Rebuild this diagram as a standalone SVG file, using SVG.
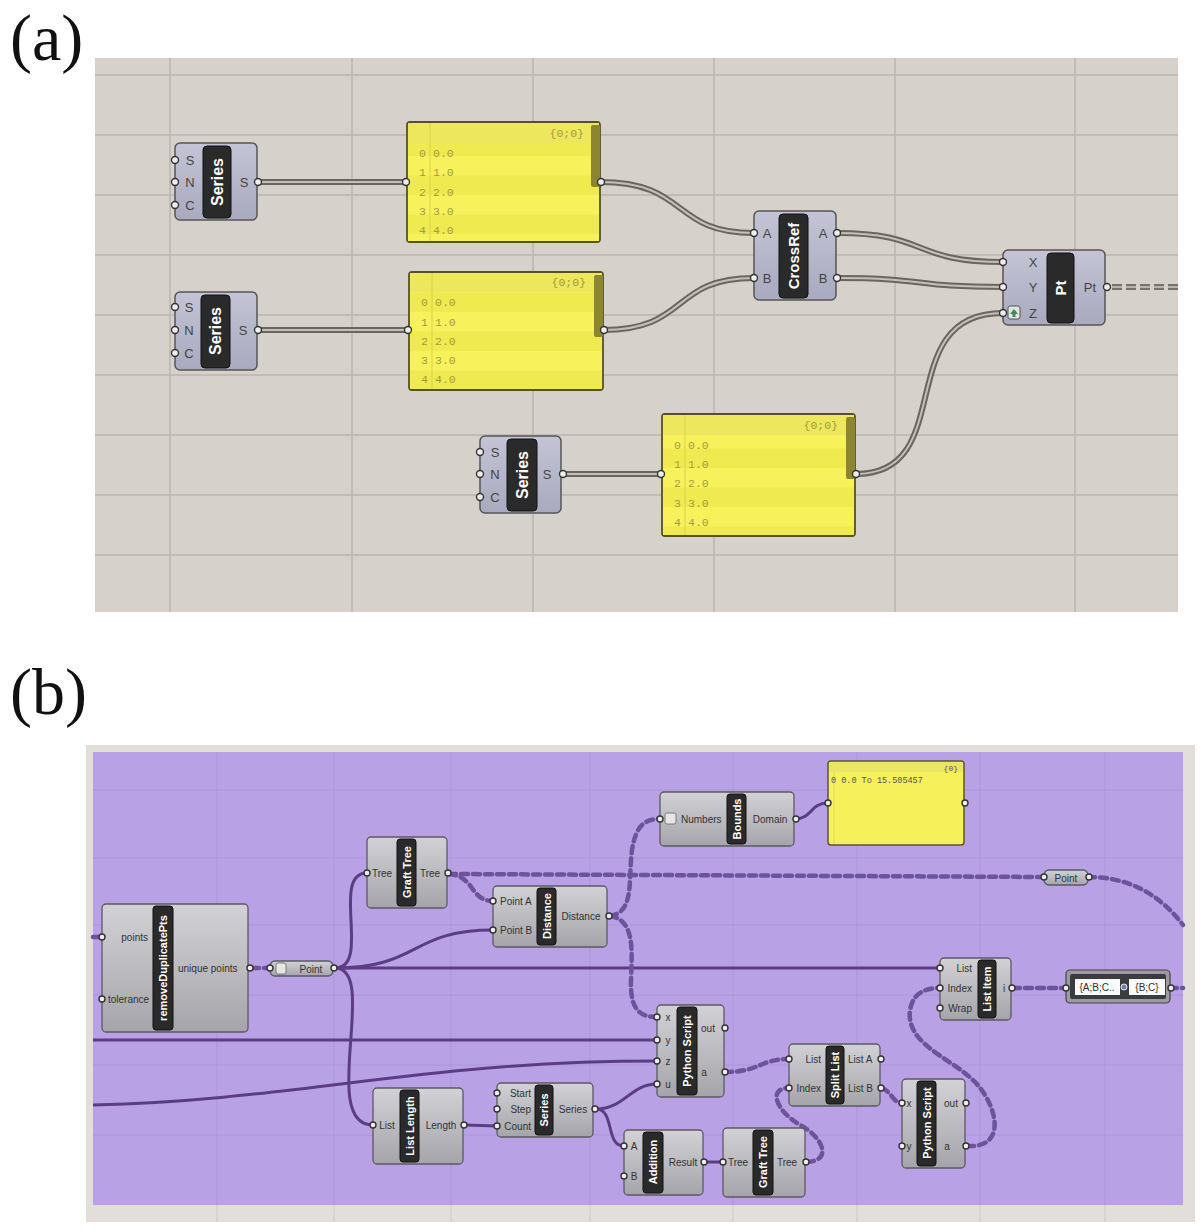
<svg xmlns="http://www.w3.org/2000/svg" width="1200" height="1231" viewBox="0 0 1200 1231">
<defs>
<linearGradient id="gA" x1="0" y1="0" x2="0" y2="1"><stop offset="0" stop-color="#c4c4d6"/><stop offset="1" stop-color="#a9a9bf"/></linearGradient>
<linearGradient id="gB" x1="0" y1="0" x2="0" y2="1"><stop offset="0" stop-color="#d2d2d6"/><stop offset="1" stop-color="#a4a4aa"/></linearGradient>
<pattern id="rows" x="0" y="0" width="10" height="39" patternUnits="userSpaceOnUse"><rect width="10" height="19.5" fill="#f7f25c"/><rect y="19.5" width="10" height="19.5" fill="#efea50"/></pattern>
</defs>
<style>
.lbl{font-family:"Liberation Serif","Times New Roman",serif;font-size:66px;fill:#111}
.na{fill:url(#gA);stroke:#555;stroke-width:1.5}
.nb{fill:url(#gB);stroke:#5a5a62;stroke-width:1.3}
.lb{fill:#2a2a2a;stroke:#111;stroke-width:1}
.tt{font-family:"Liberation Sans",Arial,sans-serif;fill:#fff;font-weight:bold;text-anchor:middle;dominant-baseline:central}
.pa{font-family:"Liberation Sans",Arial,sans-serif;font-size:13px;fill:#444;text-anchor:middle;dominant-baseline:central}
.pb{font-family:"Liberation Sans",Arial,sans-serif;font-size:10px;fill:#333;dominant-baseline:central}
.grip{fill:#eee;stroke:#333;stroke-width:1.4}
.yp{fill:#f4ef58;stroke:#55521f;stroke-width:1.8}
.yh{fill:#ece75c}
.yt{font-family:"Liberation Mono","Courier New",monospace;font-size:11.5px;fill:#a29c3c;dominant-baseline:central}
.scr{fill:#8c8632}
.wo{fill:none;stroke:#6a665f;stroke-width:6}
.wi{fill:none;stroke:#c4c0b7;stroke-width:2}
.ws{fill:none;stroke:#5a3d85;stroke-width:3}
.wd{fill:none;stroke:#6c539c;stroke-width:4.5;stroke-dasharray:7 5;stroke-linecap:round}
.gla{stroke:#bab6ae;stroke-width:1.5}
.glb{stroke:#ab95d8;stroke-width:1}
</style>

<text class="lbl" x="10" y="60">(a)</text>
<text class="lbl" x="10" y="714">(b)</text>

<!-- panel a canvas -->
<rect x="95" y="58" width="1083" height="554" fill="#d6d2cb"/>
<g class="gla">
<line x1="170" y1="58" x2="170" y2="612"/><line x1="352" y1="58" x2="352" y2="612"/><line x1="533" y1="58" x2="533" y2="612"/><line x1="714" y1="58" x2="714" y2="612"/><line x1="895" y1="58" x2="895" y2="612"/><line x1="1075" y1="58" x2="1075" y2="612"/>
<line x1="95" y1="75" x2="1178" y2="75"/><line x1="95" y1="135" x2="1178" y2="135"/><line x1="95" y1="195" x2="1178" y2="195"/><line x1="95" y1="255" x2="1178" y2="255"/><line x1="95" y1="315" x2="1178" y2="315"/><line x1="95" y1="375" x2="1178" y2="375"/><line x1="95" y1="435" x2="1178" y2="435"/><line x1="95" y1="495" x2="1178" y2="495"/><line x1="95" y1="555" x2="1178" y2="555"/>
</g>

<!-- panel a connectors -->
<g id="connectors-a">
<defs>
<path id="a1" d="M258,182 L405,182"/>
<path id="a2" d="M258,330 L407,330"/>
<path id="a3" d="M563,474 L660,474"/>
<path id="a4" d="M600,182 C690,182 670,233 754,233"/>
<path id="a5" d="M603,330 C690,330 670,278 754,278"/>
<path id="a6" d="M837,233 C930,233 910,262 1003,262"/>
<path id="a7" d="M837,278 C930,278 910,287 1003,287"/>
<path id="a8" d="M856,474 C960,474 890,313 1003,313"/>
</defs>
<use href="#a1" class="wo"/><use href="#a1" class="wi"/>
<use href="#a2" class="wo"/><use href="#a2" class="wi"/>
<use href="#a3" class="wo"/><use href="#a3" class="wi"/>
<use href="#a4" class="wo"/><use href="#a4" class="wi"/>
<use href="#a5" class="wo"/><use href="#a5" class="wi"/>
<use href="#a6" class="wo"/><use href="#a6" class="wi"/>
<use href="#a7" class="wo"/><use href="#a7" class="wi"/>
<use href="#a8" class="wo"/><use href="#a8" class="wi"/>
<path d="M1112,287 L1178,287" fill="none" stroke="#77736b" stroke-width="6" stroke-dasharray="10 4"/>
<path d="M1112,287 L1178,287" fill="none" stroke="#b9b5ac" stroke-width="2" stroke-dasharray="10 4"/>
</g>

<!-- Series 1 -->
<g id="series1">
<rect class="na" x="175" y="143" width="82" height="77" rx="5"/>
<rect class="lb" x="203" y="146" width="28" height="72" rx="4"/>
<text class="tt" font-size="16" transform="translate(217,182) rotate(-90)">Series</text>
<text class="pa" x="190" y="160">S</text><text class="pa" x="190" y="182">N</text><text class="pa" x="190" y="205">C</text>
<text class="pa" x="244" y="182">S</text>
<circle class="grip" cx="175" cy="160" r="3.5"/><circle class="grip" cx="175" cy="182" r="3.5"/><circle class="grip" cx="175" cy="205" r="3.5"/><circle class="grip" cx="258" cy="182" r="3.5"/>
</g>
<!-- Series 2 -->
<g id="series2">
<rect class="na" x="175" y="292" width="82" height="78" rx="5"/>
<rect class="lb" x="201" y="295" width="29" height="73" rx="4"/>
<text class="tt" font-size="16" transform="translate(215.5,331) rotate(-90)">Series</text>
<text class="pa" x="189" y="307">S</text><text class="pa" x="189" y="330">N</text><text class="pa" x="189" y="353">C</text>
<text class="pa" x="243" y="330">S</text>
<circle class="grip" cx="175" cy="307" r="3.5"/><circle class="grip" cx="175" cy="330" r="3.5"/><circle class="grip" cx="175" cy="353" r="3.5"/><circle class="grip" cx="258" cy="330" r="3.5"/>
</g>
<!-- Series 3 -->
<g id="series3">
<rect class="na" x="480" y="436" width="81" height="77" rx="5"/>
<rect class="lb" x="507" y="439" width="30" height="72" rx="4"/>
<text class="tt" font-size="16" transform="translate(522,475) rotate(-90)">Series</text>
<text class="pa" x="495" y="452">S</text><text class="pa" x="495" y="474">N</text><text class="pa" x="495" y="497">C</text>
<text class="pa" x="547" y="474">S</text>
<circle class="grip" cx="480" cy="452" r="3.5"/><circle class="grip" cx="480" cy="474" r="3.5"/><circle class="grip" cx="480" cy="497" r="3.5"/><circle class="grip" cx="563" cy="474" r="3.5"/>
</g>

<!-- Panel 1 -->
<g id="panel1">
<rect class="yp" x="407" y="122" width="193" height="120" rx="3"/>
<rect x="408" y="143" width="191" height="98" fill="url(#rows)"/>
<rect class="yh" x="408" y="123" width="191" height="20"/>
<line x1="430" y1="123" x2="430" y2="241" stroke="#d8d24a" stroke-width="1"/>
<rect class="scr" x="591" y="125" width="9" height="62" rx="2"/>
<text class="yt" x="584" y="133" text-anchor="end">{0;0}</text>
<text class="yt" x="426" y="153" text-anchor="end">0</text><text class="yt" x="433" y="153">0.0</text>
<text class="yt" x="426" y="172" text-anchor="end">1</text><text class="yt" x="433" y="172">1.0</text>
<text class="yt" x="426" y="192" text-anchor="end">2</text><text class="yt" x="433" y="192">2.0</text>
<text class="yt" x="426" y="211" text-anchor="end">3</text><text class="yt" x="433" y="211">3.0</text>
<text class="yt" x="426" y="230" text-anchor="end">4</text><text class="yt" x="433" y="230">4.0</text>
<circle class="grip" cx="406" cy="182" r="3.5"/><circle class="grip" cx="601" cy="182" r="3.5"/>
</g>
<!-- Panel 2 -->
<g id="panel2">
<rect class="yp" x="409" y="272" width="194" height="118" rx="3"/>
<rect x="410" y="292" width="192" height="97" fill="url(#rows)"/>
<rect class="yh" x="410" y="273" width="192" height="19"/>
<line x1="432" y1="273" x2="432" y2="389" stroke="#d8d24a" stroke-width="1"/>
<rect class="scr" x="594" y="275" width="9" height="62" rx="2"/>
<text class="yt" x="586" y="282" text-anchor="end">{0;0}</text>
<text class="yt" x="428" y="302" text-anchor="end">0</text><text class="yt" x="435" y="302">0.0</text>
<text class="yt" x="428" y="322" text-anchor="end">1</text><text class="yt" x="435" y="322">1.0</text>
<text class="yt" x="428" y="341" text-anchor="end">2</text><text class="yt" x="435" y="341">2.0</text>
<text class="yt" x="428" y="360" text-anchor="end">3</text><text class="yt" x="435" y="360">3.0</text>
<text class="yt" x="428" y="379" text-anchor="end">4</text><text class="yt" x="435" y="379">4.0</text>
<circle class="grip" cx="408" cy="330" r="3.5"/><circle class="grip" cx="604" cy="330" r="3.5"/>
</g>
<!-- Panel 3 -->
<g id="panel3">
<rect class="yp" x="662" y="414" width="193" height="122" rx="3"/>
<rect x="663" y="435" width="191" height="100" fill="url(#rows)"/>
<rect class="yh" x="663" y="415" width="191" height="20"/>
<line x1="685" y1="415" x2="685" y2="535" stroke="#d8d24a" stroke-width="1"/>
<rect class="scr" x="846" y="417" width="9" height="62" rx="2"/>
<text class="yt" x="838" y="425" text-anchor="end">{0;0}</text>
<text class="yt" x="681" y="445" text-anchor="end">0</text><text class="yt" x="688" y="445">0.0</text>
<text class="yt" x="681" y="464" text-anchor="end">1</text><text class="yt" x="688" y="464">1.0</text>
<text class="yt" x="681" y="483" text-anchor="end">2</text><text class="yt" x="688" y="483">2.0</text>
<text class="yt" x="681" y="503" text-anchor="end">3</text><text class="yt" x="688" y="503">3.0</text>
<text class="yt" x="681" y="522" text-anchor="end">4</text><text class="yt" x="688" y="522">4.0</text>
<circle class="grip" cx="661" cy="474" r="3.5"/><circle class="grip" cx="856" cy="474" r="3.5"/>
</g>

<!-- CrossRef -->
<g id="crossref">
<rect class="na" x="754" y="211" width="82" height="89" rx="5"/>
<rect class="lb" x="779" y="214" width="29" height="84" rx="4"/>
<text class="tt" font-size="15" transform="translate(793.5,256) rotate(-90)">CrossRef</text>
<text class="pa" x="767" y="233">A</text><text class="pa" x="767" y="278">B</text>
<text class="pa" x="823" y="233">A</text><text class="pa" x="823" y="278">B</text>
<circle class="grip" cx="754" cy="233" r="3.5"/><circle class="grip" cx="754" cy="278" r="3.5"/><circle class="grip" cx="837" cy="233" r="3.5"/><circle class="grip" cx="837" cy="278" r="3.5"/>
</g>
<!-- Pt -->
<g id="pt">
<rect class="na" x="1003" y="250" width="102" height="75" rx="5"/>
<rect class="lb" x="1047" y="253" width="27" height="70" rx="4"/>
<text class="tt" font-size="15" transform="translate(1060.5,288) rotate(-90)">Pt</text>
<text class="pa" x="1033" y="262">X</text><text class="pa" x="1033" y="287">Y</text><text class="pa" x="1033" y="313">Z</text>
<text class="pa" x="1090" y="287">Pt</text>
<rect x="1008" y="306" width="12" height="13" rx="2" fill="#dfe6e0" stroke="#555" stroke-width="1"/>
<path d="M1014,309 L1018,314 L1015.5,314 L1015.5,317 L1012.5,317 L1012.5,314 L1010,314 Z" fill="#3f8a5a"/>
<circle class="grip" cx="1003" cy="262" r="3.5"/><circle class="grip" cx="1003" cy="287" r="3.5"/><circle class="grip" cx="1003" cy="313" r="3.5"/><circle class="grip" cx="1107" cy="287" r="3.5"/>
</g>

<!-- panel b canvas -->
<rect x="86" y="745" width="1109" height="477" fill="#e2dfdb"/>
<g stroke="#cfcbc5" stroke-width="1"><line x1="217" y1="1205" x2="217" y2="1222"/><line x1="334" y1="1205" x2="334" y2="1222"/><line x1="451" y1="1205" x2="451" y2="1222"/><line x1="590" y1="1205" x2="590" y2="1222"/><line x1="733" y1="1205" x2="733" y2="1222"/><line x1="857" y1="1205" x2="857" y2="1222"/><line x1="980" y1="1205" x2="980" y2="1222"/><line x1="1105" y1="1205" x2="1105" y2="1222"/></g>
<rect x="93" y="752" width="1090" height="453" fill="#b9a1e5"/>
<g class="glb">
<line x1="217" y1="752" x2="217" y2="1205"/><line x1="334" y1="752" x2="334" y2="1205"/><line x1="451" y1="752" x2="451" y2="1205"/><line x1="590" y1="752" x2="590" y2="1205"/><line x1="733" y1="752" x2="733" y2="1205"/><line x1="857" y1="752" x2="857" y2="1205"/><line x1="980" y1="752" x2="980" y2="1205"/><line x1="1105" y1="752" x2="1105" y2="1205"/>
<line x1="93" y1="790" x2="1183" y2="790"/><line x1="93" y1="858" x2="1183" y2="858"/><line x1="93" y1="925" x2="1183" y2="925"/><line x1="93" y1="995" x2="1183" y2="995"/><line x1="93" y1="1065" x2="1183" y2="1065"/><line x1="93" y1="1135" x2="1183" y2="1135"/>
</g>

<!-- panel b connectors -->
<g id="connectors-b">
<path class="ws" d="M335,968 C372,968 330,873 367,873"/>
<path class="ws" d="M335,968 L940,968"/>
<path class="ws" d="M335,968 C420,968 410,930 493,930"/>
<path class="ws" d="M335,968 C380,968 318,1125 373,1125"/>
<path class="ws" d="M93,1040 L657,1040"/>
<path class="ws" d="M93,1105 C300,1100 420,1061 657,1061"/>
<path class="ws" d="M596,1109 C625,1109 630,1084 657,1084"/>
<path class="ws" d="M596,1109 C615,1109 605,1146 624,1146"/>
<path class="ws" d="M465,1125 L497,1126"/>
<path class="ws" d="M705,1162 L723,1162"/>
<path class="ws" d="M795,819 C812,819 810,803 828,803"/>
<path class="wd" d="M93,937 L100,937"/>
<path class="wd" d="M252,968 L270,968"/>
<path class="wd" d="M449,874 L1044,877"/>
<path class="wd" d="M449,874 C475,876 470,901 493,901"/>
<path class="wd" d="M610,916 C635,912 628,880 632,850 C636,825 645,819 660,819"/>
<path class="wd" d="M610,916 C635,920 632,950 631,980 C630,1010 640,1017 657,1017"/>
<path class="wd" d="M1088,877 C1130,877 1160,895 1183,925"/>
<path class="wd" d="M1013,988 L1066,988"/>
<path class="wd" d="M1170,988 L1183,988"/>
<path class="wd" d="M725,1072 C760,1072 760,1059 789,1059"/>
<path class="wd" d="M807,1162 C835,1160 820,1135 800,1125 C775,1110 768,1088 789,1088"/>
<path class="wd" d="M882,1088 C892,1092 893,1103 902,1103"/>
<path class="wd" d="M967,1146 C1000,1148 1000,1120 985,1095 C965,1060 905,1050 910,1010 C913,993 925,988 940,988"/>
</g>

<!-- removeDuplicatePts -->
<g id="removeDuplicatePts">
<rect class="nb" x="102" y="904" width="146" height="128" rx="4"/>
<rect class="lb" x="153" y="906" width="20" height="124" rx="3"/>
<text class="tt" font-size="11" transform="translate(163,968) rotate(-90)">removeDuplicatePts</text>
<text class="pb" x="148" y="937" text-anchor="end">points</text>
<text class="pb" x="108" y="999">tolerance</text>
<text class="pb" x="178" y="968">unique points</text>
<circle class="grip" cx="102" cy="937" r="3"/><circle class="grip" cx="102" cy="999" r="3"/><circle class="grip" cx="250" cy="968" r="3"/>
</g>
<!-- Point param 1 -->
<g id="point1">
<rect class="nb" x="270" y="961" width="63" height="15" rx="5"/>
<rect x="276" y="963" width="10" height="11" rx="2" fill="#e6e6e6" stroke="#666" stroke-width="0.8"/>
<text class="pb" x="311" y="969" text-anchor="middle">Point</text>
<circle class="grip" cx="270" cy="968" r="3"/><circle class="grip" cx="334" cy="968" r="3"/>
</g>
<!-- Graft Tree 1 -->
<g id="grafttree1">
<rect class="nb" x="367" y="837" width="80" height="71" rx="4"/>
<rect class="lb" x="397" y="839" width="19" height="67" rx="3"/>
<text class="tt" font-size="11" transform="translate(406.5,872) rotate(-90)">Graft Tree</text>
<text class="pb" x="382" y="873" text-anchor="middle">Tree</text>
<text class="pb" x="430" y="873" text-anchor="middle">Tree</text>
<circle class="grip" cx="367" cy="873" r="3"/><circle class="grip" cx="448" cy="873" r="3"/>
</g>
<!-- Distance -->
<g id="distance">
<rect class="nb" x="493" y="886" width="114" height="61" rx="4"/>
<rect class="lb" x="537" y="888" width="19" height="57" rx="3"/>
<text class="tt" font-size="11" transform="translate(546.5,916) rotate(-90)">Distance</text>
<text class="pb" x="500" y="901">Point A</text>
<text class="pb" x="500" y="930">Point B</text>
<text class="pb" x="581" y="916" text-anchor="middle">Distance</text>
<circle class="grip" cx="493" cy="901" r="3"/><circle class="grip" cx="493" cy="930" r="3"/><circle class="grip" cx="609" cy="916" r="3"/>
</g>
<!-- Bounds -->
<g id="bounds">
<rect class="nb" x="660" y="792" width="134" height="54" rx="4"/>
<rect class="lb" x="727" y="794" width="19" height="50" rx="3"/>
<text class="tt" font-size="11" transform="translate(736.5,819) rotate(-90)">Bounds</text>
<rect x="665" y="813" width="11" height="11" rx="2" fill="#e6e6e6" stroke="#666" stroke-width="0.8"/>
<text class="pb" x="681" y="819">Numbers</text>
<text class="pb" x="770" y="819" text-anchor="middle">Domain</text>
<circle class="grip" cx="660" cy="819" r="3"/><circle class="grip" cx="796" cy="819" r="3"/>
</g>
<!-- Bounds panel -->
<g id="panel-domain">
<rect x="828" y="761" width="136" height="84" rx="3" fill="#f6f05a" stroke="#5a5728" stroke-width="1.5"/>
<rect x="829" y="762" width="134" height="10" fill="#ebe565"/>
<line x1="834" y1="772" x2="834" y2="844" stroke="#e0da50" stroke-width="1"/>
<text x="958" y="768" text-anchor="end" font-family="Liberation Mono,monospace" font-size="8" fill="#555" dominant-baseline="central">{0}</text>
<text x="831" y="781" font-family="Liberation Mono,monospace" font-size="8.5" fill="#555" dominant-baseline="central">0 0.0 To 15.505457</text>
<circle class="grip" cx="828" cy="803" r="3"/><circle class="grip" cx="965" cy="803" r="3"/>
</g>
<!-- Point param 2 -->
<g id="point2">
<rect class="nb" x="1044" y="870" width="44" height="15" rx="5"/>
<text class="pb" x="1066" y="878" text-anchor="middle">Point</text>
<circle class="grip" cx="1044" cy="877" r="3"/><circle class="grip" cx="1089" cy="877" r="3"/>
</g>
<!-- List Item -->
<g id="listitem">
<rect class="nb" x="940" y="958" width="71" height="62" rx="4"/>
<rect class="lb" x="978" y="960" width="18" height="58" rx="3"/>
<text class="tt" font-size="11" transform="translate(987,989) rotate(-90)">List Item</text>
<text class="pb" x="972" y="968" text-anchor="end">List</text>
<text class="pb" x="972" y="988" text-anchor="end">Index</text>
<text class="pb" x="972" y="1008" text-anchor="end">Wrap</text>
<text class="pb" x="1004" y="988" text-anchor="middle">i</text>
<circle class="grip" cx="940" cy="968" r="3"/><circle class="grip" cx="940" cy="988" r="3"/><circle class="grip" cx="940" cy="1008" r="3"/><circle class="grip" cx="1012" cy="988" r="3"/>
</g>
<!-- Value panel -->
<g id="valuelist">
<rect x="1066" y="970" width="104" height="33" rx="4" fill="#9a9aa0" stroke="#444" stroke-width="1.2"/>
<rect x="1070" y="974" width="96" height="25" rx="2" fill="#3c3c40"/>
<rect x="1075" y="979" width="45" height="16" fill="#fafafa"/>
<rect x="1129" y="979" width="36" height="16" fill="#fafafa"/>
<circle cx="1124" cy="987" r="3" fill="#6a7fb8" stroke="#eee" stroke-width="1"/>
<text class="pb" x="1097" y="987" text-anchor="middle" font-size="8.5">{A;B;C..</text>
<text class="pb" x="1147" y="987" text-anchor="middle" font-size="8.5">{B;C}</text>
<circle class="grip" cx="1066" cy="988" r="3"/><circle class="grip" cx="1171" cy="988" r="3"/>
</g>
<!-- Python Script 1 -->
<g id="python1">
<rect class="nb" x="657" y="1005" width="67" height="92" rx="4"/>
<rect class="lb" x="677" y="1007" width="20" height="88" rx="3"/>
<text class="tt" font-size="11" transform="translate(687,1051) rotate(-90)">Python Script</text>
<text class="pb" x="668" y="1017" text-anchor="middle">x</text>
<text class="pb" x="668" y="1040" text-anchor="middle">y</text>
<text class="pb" x="668" y="1061" text-anchor="middle">z</text>
<text class="pb" x="668" y="1084" text-anchor="middle">u</text>
<text class="pb" x="708" y="1028" text-anchor="middle">out</text>
<text class="pb" x="704" y="1072" text-anchor="middle">a</text>
<circle class="grip" cx="657" cy="1017" r="3"/><circle class="grip" cx="657" cy="1040" r="3"/><circle class="grip" cx="657" cy="1061" r="3"/><circle class="grip" cx="657" cy="1084" r="3"/><circle class="grip" cx="725" cy="1028" r="3"/><circle class="grip" cx="725" cy="1072" r="3"/>
</g>
<!-- Split List -->
<g id="splitlist">
<rect class="nb" x="789" y="1044" width="91" height="62" rx="4"/>
<rect class="lb" x="826" y="1046" width="18" height="58" rx="3"/>
<text class="tt" font-size="11" transform="translate(835,1075) rotate(-90)">Split List</text>
<text class="pb" x="821" y="1059" text-anchor="end">List</text>
<text class="pb" x="821" y="1088" text-anchor="end">Index</text>
<text class="pb" x="848" y="1059">List A</text>
<text class="pb" x="848" y="1088">List B</text>
<circle class="grip" cx="789" cy="1059" r="3"/><circle class="grip" cx="789" cy="1088" r="3"/><circle class="grip" cx="881" cy="1059" r="3"/><circle class="grip" cx="881" cy="1088" r="3"/>
</g>
<!-- Python Script 2 -->
<g id="python2">
<rect class="nb" x="902" y="1079" width="63" height="89" rx="4"/>
<rect class="lb" x="917" y="1081" width="19" height="85" rx="3"/>
<text class="tt" font-size="11" transform="translate(926.5,1123) rotate(-90)">Python Script</text>
<text class="pb" x="909" y="1103" text-anchor="middle">x</text>
<text class="pb" x="909" y="1146" text-anchor="middle">y</text>
<text class="pb" x="951" y="1103" text-anchor="middle">out</text>
<text class="pb" x="947" y="1146" text-anchor="middle">a</text>
<circle class="grip" cx="902" cy="1103" r="3"/><circle class="grip" cx="902" cy="1146" r="3"/><circle class="grip" cx="966" cy="1103" r="3"/><circle class="grip" cx="966" cy="1146" r="3"/>
</g>
<!-- Addition -->
<g id="addition">
<rect class="nb" x="624" y="1130" width="79" height="65" rx="4"/>
<rect class="lb" x="643" y="1132" width="20" height="61" rx="3"/>
<text class="tt" font-size="11" transform="translate(653,1162) rotate(-90)">Addition</text>
<text class="pb" x="634" y="1146" text-anchor="middle">A</text>
<text class="pb" x="634" y="1176" text-anchor="middle">B</text>
<text class="pb" x="683" y="1162" text-anchor="middle">Result</text>
<circle class="grip" cx="624" cy="1146" r="3"/><circle class="grip" cx="624" cy="1176" r="3"/><circle class="grip" cx="704" cy="1162" r="3"/>
</g>
<!-- Graft Tree 2 -->
<g id="grafttree2">
<rect class="nb" x="723" y="1128" width="82" height="69" rx="4"/>
<rect class="lb" x="753" y="1130" width="20" height="65" rx="3"/>
<text class="tt" font-size="11" transform="translate(763,1162) rotate(-90)">Graft Tree</text>
<text class="pb" x="738" y="1162" text-anchor="middle">Tree</text>
<text class="pb" x="787" y="1162" text-anchor="middle">Tree</text>
<circle class="grip" cx="723" cy="1162" r="3"/><circle class="grip" cx="806" cy="1162" r="3"/>
</g>
<!-- List Length -->
<g id="listlength">
<rect class="nb" x="373" y="1088" width="90" height="76" rx="4"/>
<rect class="lb" x="400" y="1090" width="19" height="72" rx="3"/>
<text class="tt" font-size="11" transform="translate(409.5,1126) rotate(-90)">List Length</text>
<text class="pb" x="387" y="1125" text-anchor="middle">List</text>
<text class="pb" x="441" y="1125" text-anchor="middle">Length</text>
<circle class="grip" cx="373" cy="1125" r="3"/><circle class="grip" cx="464" cy="1125" r="3"/>
</g>
<!-- Series b -->
<g id="seriesb">
<rect class="nb" x="497" y="1083" width="96" height="54" rx="4"/>
<rect class="lb" x="535" y="1085" width="18" height="50" rx="3"/>
<text class="tt" font-size="11" transform="translate(544,1110) rotate(-90)">Series</text>
<text class="pb" x="531" y="1093" text-anchor="end">Start</text>
<text class="pb" x="531" y="1109" text-anchor="end">Step</text>
<text class="pb" x="531" y="1126" text-anchor="end">Count</text>
<text class="pb" x="573" y="1109" text-anchor="middle">Series</text>
<circle class="grip" cx="497" cy="1093" r="3"/><circle class="grip" cx="497" cy="1109" r="3"/><circle class="grip" cx="497" cy="1126" r="3"/><circle class="grip" cx="595" cy="1109" r="3"/>
</g>
</svg>
